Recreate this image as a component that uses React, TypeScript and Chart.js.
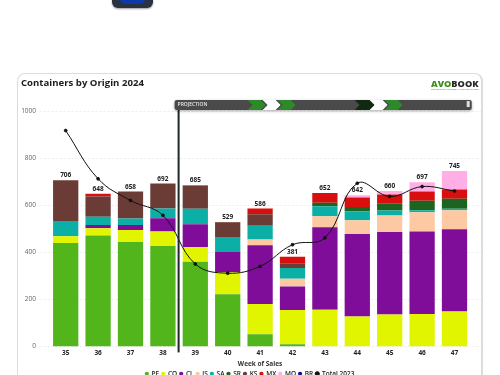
import React, { useEffect, useRef } from "react";
import { Chart, registerables } from "chart.js";

Chart.register(...registerables);

const weeks = ["35", "36", "37", "38", "39", "40", "41", "42", "43", "44", "45", "46", "47"];
const PE = [439, 471, 444, 427, 360, 222, 52, 9, 0, 0, 0, 0, 0];
const CO = [29, 31, 51, 61, 62, 93, 128, 146, 156, 127, 135, 138, 148];
const CL = [0, 14, 21, 56, 97, 86, 250, 99, 350, 350, 351, 350, 350];
const JS = [0, 0, 0, 0, 0, 0, 24, 33, 47, 59, 70, 82, 80];
const SA = [65, 35, 27, 42, 66, 64, 59, 46, 42, 38, 21, 8, 7];
const SR = [0, 0, 0, 0, 0, 0, 0, 0, 15, 18, 29, 41, 42];
const KS = [173, 86, 113, 104, 99, 62, 48, 20, 0, 0, 0, 0, 0];
const MX = [0, 11, 2, 2, 1, 2, 25, 28, 42, 41, 39, 39, 40];
const MO = [0, 0, 0, 0, 0, 0, 0, 0, 0, 9, 15, 39, 78];
const BR = [0, 0, 0, 0, 0, 0, 0, 0, 0, 0, 0, 0, 0];
const total2023 = [917, 712, 620, 557, 350, 311, 340, 432, 461, 693, 637, 679, 660];
const totalLabels = [706, 648, 658, 692, 685, 529, 586, 381, 652, 642, 660, 697, 745];
const yTicks = [0, 200, 400, 600, 800, 1000];

const FONT = "'Open Sans', sans-serif";

const legendShiftPlugin = {
  id: "legendShift",
  afterLayout(chart: any) {
    chart.legend.left += 4;
    chart.legend.right += 4;
  },
};

const gridPlugin = {
  id: "wideGrid",
  beforeDatasetsDraw(chart: any) {
    const { ctx, chartArea, scales } = chart;
    ctx.save();
    ctx.strokeStyle = "#e9ecec";
    ctx.lineWidth = 1;
    ctx.setLineDash([2, 2]);
    yTicks.forEach((t) => {
      const y = Math.round(scales.y.getPixelForValue(t)) + 0.5;
      ctx.beginPath();
      ctx.moveTo(chartArea.left - 10, y);
      ctx.lineTo(chartArea.right + 10, y);
      ctx.stroke();
    });
    ctx.restore();
  },
};

const overlayPlugin = {
  id: "overlay",
  afterDatasetsDraw(chart: any) {
    const { ctx, scales } = chart;
    ctx.save();
    // total labels above each stack
    ctx.font = `700 6.5px ${FONT}`;
    ctx.fillStyle = "#222222";
    ctx.textAlign = "center";
    ctx.textBaseline = "bottom";
    totalLabels.forEach((v, i) => {
      ctx.fillText(String(v), scales.x.getPixelForValue(i), scales.y.getPixelForValue(v) - 1.5);
    });

    // projection marker
    const px = scales.x.getPixelForValue(3.5) - 0.5;
    const top = scales.y.getPixelForValue(1000);
    const barL = px - 4;
    const barR = scales.x.right + 1;
    const barT = top - 11;
    const barH = 10;
    ctx.fillStyle = "#1d2b25";
    ctx.fillRect(px - 1, barT + 4, 2, scales.y.getPixelForValue(0) - barT + 2);

    ctx.shadowColor = "rgba(0,0,0,0.35)";
    ctx.shadowBlur = 3;
    ctx.shadowOffsetY = 1;
    ctx.fillStyle = "#4a4a4a";
    ctx.beginPath();
    ctx.roundRect(barL, barT, barR - barL, barH, 2);
    ctx.fill();
    ctx.shadowColor = "transparent";

    const chevron = (x: number, w: number, color: string) => {
      ctx.fillStyle = color;
      ctx.beginPath();
      ctx.moveTo(x, barT);
      ctx.lineTo(x + w - 5, barT);
      ctx.lineTo(x + w, barT + barH / 2);
      ctx.lineTo(x + w - 5, barT + barH);
      ctx.lineTo(x, barT + barH);
      ctx.lineTo(x + 5, barT + barH / 2);
      ctx.closePath();
      ctx.fill();
    };
    chevron(barL + 73, 18, "#2d8a2b");
    chevron(barL + 103, 18, "#2d8a2b");
    chevron(barL + 88, 18, "#ffffff");
    chevron(barL + 180, 20, "#0f2a10");
    chevron(barL + 210, 18, "#2d8a2b");
    chevron(barL + 195, 18, "#ffffff");

    ctx.fillStyle = "#dddddd";
    ctx.fillRect(barR - 5, barT + 1, 3, barH - 4);

    ctx.fillStyle = "#e8e8e8";
    ctx.font = `600 5px ${FONT}`;
    ctx.textAlign = "left";
    ctx.textBaseline = "middle";
    ctx.fillText("PROJECTION", barL + 3, barT + barH / 2);

    // brand mark
    ctx.textBaseline = "alphabetic";
    ctx.textAlign = "left";
    ctx.font = `800 9.2px ${FONT}`;
    ctx.fillStyle = "#3d8f1f";
    ctx.fillText("AVO", 431, 87);
    const w = ctx.measureText("AVO").width;
    ctx.fillStyle = "#2a2a2a";
    ctx.fillText("BOOK", 431 + w, 87);
    ctx.font = `500 2.2px ${FONT}`;
    ctx.fillStyle = "#555555";
    ctx.fillText("CONNECTING THE GLOBAL AVOCADO MARKET", 431, 89.5);
    ctx.restore();
  },
};

function bar(label: string, data: number[], color: string) {
  return {
    type: "bar" as const,
    label,
    data,
    backgroundColor: color,
    borderWidth: 0,
    categoryPercentage: 0.78,
    barPercentage: 1,
    order: 1,
    stack: "origin",
  };
}

export default function App() {
  const ref = useRef<HTMLCanvasElement>(null);

  useEffect(() => {
    document.body.style.margin = "0";
    const chart = new Chart(ref.current as HTMLCanvasElement, {
      type: "bar",
      data: {
        labels: weeks,
        datasets: [
          bar("PE", PE, "#53b51c"),
          bar("CO", CO, "#e1f500"),
          bar("CL", CL, "#800d9a"),
          bar("JS", JS, "#fcc9a3"),
          bar("SA", SA, "#0bafa6"),
          bar("SR", SR, "#1e6421"),
          bar("KS", KS, "#6b3b35"),
          bar("MX", MX, "#d90f0f"),
          bar("MO", MO, "#ffaee6"),
          bar("BR", BR, "#1b0a8a"),
          {
            type: "line" as const,
            label: "Total 2023",
            data: total2023,
            borderColor: "#111111",
            backgroundColor: "#111111",
            borderWidth: 1,
            tension: 0.4,
            pointRadius: 1.4,
            pointStyle: "circle",
            order: 0,
            stack: "line",
          },
        ] as any,
      },
      options: {
        responsive: false,
        animation: false,
        maintainAspectRatio: false,
        layout: { padding: { left: 21, right: 29.3, top: 77.5, bottom: 0 } },
        plugins: {
          title: {
            display: true,
            text: "Containers by Origin 2024",
            align: "start",
            color: "#1c1c1c",
            font: { family: FONT, size: 9.6, weight: "bold" },
            padding: { top: 0, bottom: 22 },
          },
          legend: {
            position: "bottom",
            labels: {
              usePointStyle: true,
              boxWidth: 3,
              boxHeight: 3,
              padding: 2.5,
              color: "#222222",
              font: { family: FONT, size: 6.5, weight: "600" },
              sort: (a: any, b: any) => a.datasetIndex - b.datasetIndex,
            },
          },
          tooltip: { enabled: false },
        },
        scales: {
          x: {
            stacked: true,
            grid: { display: false, drawTicks: false },
            border: { display: false },
            ticks: { color: "#222222", padding: 3, font: { family: FONT, size: 6.5, weight: "bold" } },
            title: {
              display: true,
              text: "Week of Sales",
              color: "#333333",
              padding: { top: 0, bottom: 0 },
              font: { family: FONT, size: 6.5, weight: "bold" },
            },
          },
          y: {
            stacked: true,
            min: 0,
            max: 1000,
            afterFit: (s: any) => {
              s.width = 28.5;
            },
            afterBuildTicks: (s: any) => {
              s.ticks = yTicks.map((value) => ({ value }));
            },
            grid: { display: false, drawTicks: false },
            border: { display: false },
            ticks: {
              color: "#666666",
              padding: 13.5,
              font: { family: FONT, size: 6.5 },
              callback: (v: any) => String(v),
            },
          },
        },
      } as any,
      plugins: [legendShiftPlugin, gridPlugin, overlayPlugin],
    });
    return () => chart.destroy();
  }, []);

  return (
    <div style={{ position: "absolute", left: 0, top: 0, width: 500, height: 375, overflow: "hidden", background: "#fff" }}>
      <div
        style={{
          position: "absolute",
          left: 112,
          top: -14,
          width: 41,
          height: 22,
          borderRadius: 6,
          background: "#2a3240",
          boxShadow: "0 1px 2px rgba(0,0,0,0.4)",
        }}
      >
        <div style={{ position: "absolute", left: 8, top: 6, width: 25, height: 12, borderRadius: 5, background: "#0d3aa8" }} />
      </div>
      <div
        style={{
          position: "absolute",
          left: 17,
          top: 73,
          width: 466,
          height: 340,
          boxSizing: "border-box",
          border: "1px solid #d9dedb",
          borderRightWidth: 2,
          borderRadius: 8,
          background: "#fff",
        }}
      />
      <canvas ref={ref} width={500} height={387} style={{ position: "absolute", left: 0, top: 0, display: "block" }} />
    </div>
  );
}
